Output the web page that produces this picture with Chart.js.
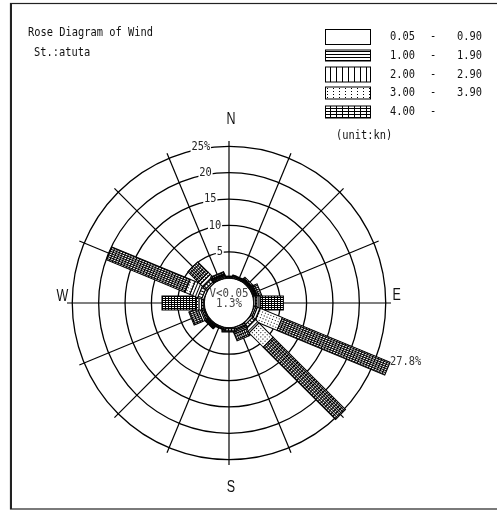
<!DOCTYPE html>
<html>
<head>
<meta charset="utf-8">
<script src="https://cdn.jsdelivr.net/npm/chart.js@4.4.1/dist/chart.umd.min.js"></script>
<style>
  html, body { margin: 0; padding: 0; background: #fff; }
  canvas { display: block; }
</style>
</head>
<body>
<canvas id="rose" width="497" height="511"></canvas>
<script>
const directions = ['N', 'NNE', 'NE', 'ENE', 'E', 'ESE', 'SE', 'SSE', 'S', 'SSW', 'SW', 'WSW', 'W', 'WNW', 'NW', 'NNW'];

// frequency (%) per direction, one array per wind speed class (kn)
const speed005to090 = [0.2, 0.2, 0.2, 0.2, 0.3, 0.3, 0.4, 0.3, 0.2, 0.2, 0.2, 0.2, 0.2, 0.4, 0.3, 0.2];
const speed100to190 = [0.1, 0.1, 0.2, 0.2, 0.3, 0.3, 0.6, 0.2, 0.4, 0.1, 0.2, 0.3, 0.3, 0.8, 0.6, 0.2];
const speed200to290 = [0.1, 0.1, 0.1, 0.2, 0.4, 0.6, 1.0, 0.3, 0.2, 0.1, 0.2, 0.3, 0.5, 1.6, 0.8, 0.2];
const speed300to390 = [0.0, 0.1, 0.1, 0.2, 0.3, 4.5, 3.8, 0.3, 0.0, 0.0, 0.2, 0.4, 0.5, 1.0, 0.5, 0.2];
const speedOver400  = [0.0, 0.0, 0.3, 0.8, 4.3, 22.1, 19.4, 1.4, 0.0, 0.0, 0.1, 1.8, 6.5, 16.1, 2.8, 0.4];

const calmPercent = 1.3;
const ringValues = [5, 10, 15, 20, 25];
const classLow = ['0.05', '1.00', '2.00', '3.00', '4.00'];
const classHigh = ['0.90', '1.90', '2.90', '3.90', ''];

const speedSeries = [speed005to090, speed100to190, speed200to290, speed300to390, speedOver400];

const canvas = document.getElementById('rose');
const MONO = '"DejaVu Sans Mono", "Liberation Mono", monospace';
const SANS = '"Liberation Sans", Arial, sans-serif';
const BAR_WIDTH = 14;

function makePattern(w, h, paint) {
  const c = document.createElement('canvas');
  c.width = w;
  c.height = h;
  const g = c.getContext('2d');
  g.fillStyle = '#fff';
  g.fillRect(0, 0, w, h);
  g.fillStyle = '#000';
  paint(g);
  return canvas.getContext('2d').createPattern(c, 'repeat');
}

// fills for the bars, in a frame where x runs outward along the bar
const barFills = [
  '#fff',
  makePattern(1, 3, g => g.fillRect(0, 0, 1, 1)),
  makePattern(3, 1, g => g.fillRect(0, 0, 1, 1)),
  makePattern(3, 3, g => g.fillRect(1, 1, 1, 1)),
  makePattern(3, 2, g => { g.fillRect(0, 0, 3, 1); g.fillRect(0, 0, 1, 2); })
];

// fills for the legend swatches
const legendFills = [
  '#fff',
  makePattern(1, 3, g => g.fillRect(0, 0, 1, 1)),
  makePattern(6, 1, g => g.fillRect(0, 0, 1, 1)),
  makePattern(6, 3, g => g.fillRect(3, 1, 1, 1)),
  makePattern(6, 3, g => { g.fillRect(0, 0, 6, 1); g.fillRect(0, 0, 1, 3); })
];

function drawText(ctx, text, x, y, opts = {}) {
  const size = opts.size || 12.5;
  const sx = opts.sx || 0.83;
  ctx.save();
  ctx.font = size + 'px ' + (opts.family || MONO);
  ctx.textBaseline = 'middle';
  ctx.textAlign = opts.align || 'left';
  ctx.fillStyle = opts.color || '#111';
  ctx.translate(x, y);
  ctx.scale(sx, 1);
  if (opts.backdrop) {
    const w = ctx.measureText(text).width;
    const x0 = opts.align === 'center' ? -w / 2 : opts.align === 'right' ? -w : 0;
    ctx.fillStyle = '#fff';
    ctx.fillRect(x0 - 1, -6, w + 2, 12);
    ctx.fillStyle = opts.color || '#111';
  }
  ctx.fillText(text, 0, 0);
  ctx.restore();
}

const rosePlugin = {
  id: 'rosePlugin',
  afterDraw(chart) {
    const ctx = chart.ctx;
    const r = chart.scales.r;
    const cx = r.xCenter;
    const cy = r.yCenter;
    const rCalm = r.getDistanceFromCenterForValue(0);

    // calm circle: clear the spokes inside it
    ctx.save();
    ctx.beginPath();
    ctx.arc(cx, cy, rCalm, 0, Math.PI * 2);
    ctx.fillStyle = '#fff';
    ctx.fill();
    ctx.lineWidth = 1.3;
    ctx.strokeStyle = '#000';
    ctx.stroke();
    ctx.restore();

    // stacked bars, one per direction
    const sets = chart.data.datasets;
    const totals = directions.map((d, i) => sets.reduce((s, ds) => s + ds.data[i], 0));
    directions.forEach((d, i) => {
      const angle = r.getPointPosition(i, 0).angle;
      let acc = 0;
      ctx.save();
      ctx.translate(cx, cy);
      ctx.rotate(angle);
      ctx.lineWidth = 1;
      ctx.strokeStyle = '#000';
      sets.forEach((ds, k) => {
        const v = ds.data[i];
        if (!v) return;
        const a = r.getDistanceFromCenterForValue(acc);
        acc += v;
        const b = r.getDistanceFromCenterForValue(acc);
        ctx.fillStyle = barFills[k];
        ctx.fillRect(a, -BAR_WIDTH / 2, b - a, BAR_WIDTH);
        ctx.strokeRect(a, -BAR_WIDTH / 2, b - a, BAR_WIDTH);
      });
      ctx.restore();
    });

    // value of the longest bar
    const iMax = totals.indexOf(Math.max(...totals));
    const tip = r.getPointPosition(iMax, r.getDistanceFromCenterForValue(totals[iMax]));
    drawText(ctx, totals[iMax].toFixed(1) + '%', tip.x + 2.5, tip.y - 7, { color: '#333' });

    // ring labels
    ringValues.forEach((v, k) => {
      const rad = r.getDistanceFromCenterForValue(v);
      const label = v + (k === ringValues.length - 1 ? '%' : '');
      drawText(ctx, label, cx - rad * 0.18, cy - rad, { align: 'center', backdrop: true, color: '#222' });
    });

    // compass letters
    const rOut = r.getDistanceFromCenterForValue(ringValues[ringValues.length - 1]);
    const big = { size: 16, sx: 0.78, family: SANS, align: 'center', color: '#111' };
    drawText(ctx, 'N', cx + 2, cy - rOut - 27, big);
    drawText(ctx, 'S', cx + 2, cy + rOut + 28, big);
    drawText(ctx, 'W', cx - rOut - 10, cy - 6, big);
    drawText(ctx, 'E', cx + rOut + 11, cy - 7, big);

    // calm share
    drawText(ctx, 'V<0.05', cx, cy - 9, { align: 'center', size: 13, color: '#444' });
    drawText(ctx, calmPercent.toFixed(1) + '%', cx, cy + 1, { align: 'center', size: 13, color: '#444' });

    // heading
    drawText(ctx, 'Rose Diagram of Wind', 28, 33);
    drawText(ctx, 'St.:atuta', 34, 53);

    // speed class legend
    const rowY = [37, 55.5, 74.5, 93, 112];
    const boxH = [15, 11, 15, 12, 12];
    classLow.forEach((lo, k) => {
      const y = rowY[k];
      ctx.save();
      ctx.fillStyle = legendFills[k];
      ctx.fillRect(325.5, y - boxH[k] / 2, 45, boxH[k]);
      ctx.lineWidth = 1;
      ctx.strokeStyle = '#000';
      ctx.strokeRect(325.5, y - boxH[k] / 2, 45, boxH[k]);
      ctx.restore();
      drawText(ctx, lo, 390, y);
      drawText(ctx, '-', 433, y, { align: 'center' });
      if (classHigh[k]) drawText(ctx, classHigh[k], 482, y, { align: 'right' });
    });
    drawText(ctx, '(unit:kn)', 336, 136);

    // frame
    ctx.save();
    ctx.strokeStyle = '#222';
    ctx.lineWidth = 1.2;
    ctx.strokeRect(10.5, 3.5, 495, 505.5);
    ctx.fillStyle = '#222';
    ctx.fillRect(10, 3, 2, 506);
    ctx.restore();
  }
};

new Chart(canvas, {
  type: 'radar',
  data: {
    labels: directions,
    datasets: speedSeries.map((data, k) => ({
      label: classLow[k] + ' - ' + classHigh[k],
      data: data,
      showLine: false,
      fill: false,
      borderWidth: 0,
      borderColor: 'transparent',
      backgroundColor: 'transparent',
      pointRadius: 0
    }))
  },
  options: {
    responsive: false,
    animation: false,
    devicePixelRatio: 1,
    layout: { padding: { left: 67, right: 106, top: 141, bottom: 46 } },
    plugins: {
      legend: { display: false },
      tooltip: { enabled: false }
    },
    scales: {
      r: {
        min: -4.7,
        max: 26,
        startAngle: 0,
        ticks: { display: false },
        pointLabels: { display: false },
        grid: { circular: true, color: '#000', lineWidth: 1.3 },
        angleLines: { display: true, color: '#000', lineWidth: 1.2 },
        afterBuildTicks: scale => {
          scale.ticks = [0, ...ringValues].map(v => ({ value: v }));
        }
      }
    }
  },
  plugins: [rosePlugin]
});
</script>
</body>
</html>
